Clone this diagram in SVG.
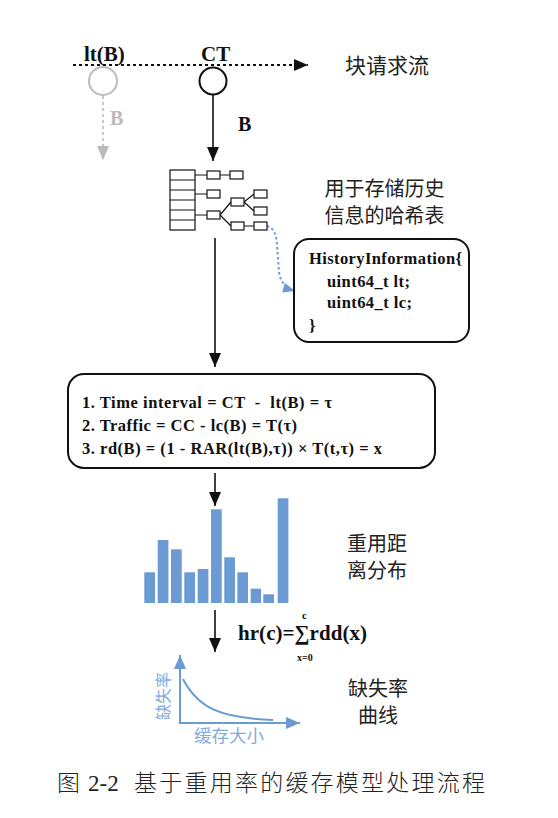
<svg xmlns="http://www.w3.org/2000/svg" width="558" height="818" viewBox="0 0 558 818">
<style>
.lat{font-family:"Liberation Serif","Times New Roman",serif;font-weight:bold;fill:#111;}
.cjk{font-family:"Noto Sans CJK SC","Noto Sans",sans-serif;font-size:20px;fill:#222;}
.box{fill:#fff;stroke:#111;stroke-width:2;}
.ht{fill:#fff;stroke:#111;stroke-width:1.2;}
.htl{stroke:#111;stroke-width:1.2;fill:none;}
.bar{fill:#6b9bd2;}
.pre{white-space:pre;}
</style>
<defs>
<marker id="ab" viewBox="0 0 14 12" refX="14" refY="6" markerWidth="14" markerHeight="12" markerUnits="userSpaceOnUse" orient="auto"><path d="M0,0 L14,6 L0,12 z" fill="#111"/></marker>
<marker id="ag" viewBox="0 0 14 12" refX="14" refY="6" markerWidth="14" markerHeight="12" markerUnits="userSpaceOnUse" orient="auto"><path d="M0,0 L14,6 L0,12 z" fill="#bbb"/></marker>
<marker id="abl" viewBox="0 0 12 10" refX="12" refY="5" markerWidth="12" markerHeight="10" markerUnits="userSpaceOnUse" orient="auto"><path d="M0,0 L12,5 L0,10 z" fill="#6b9bd2"/></marker>
<marker id="abx" viewBox="0 0 14 12" refX="14" refY="6" markerWidth="14" markerHeight="14" markerUnits="userSpaceOnUse" orient="auto"><path d="M0,0 L14,6 L0,12 z" fill="#6b9bd2"/></marker>
</defs>

<g id="connectors">
<line x1="73" y1="65" x2="308" y2="65" stroke="#111" stroke-width="2" stroke-dasharray="3 3" marker-end="url(#ab)"/>
<line x1="103" y1="96" x2="103" y2="160" stroke="#bbb" stroke-width="1.6" stroke-dasharray="3 3" marker-end="url(#ag)"/>
<line x1="213" y1="95" x2="213" y2="161" stroke="#111" stroke-width="1.6" marker-end="url(#ab)"/>
<line x1="215" y1="238" x2="215" y2="367" stroke="#111" stroke-width="1.6" marker-end="url(#ab)"/>
<path d="M267,226 Q276,228 277,245 L279,272 Q281,287 295,291" fill="none" stroke="#6b9bd2" stroke-width="2" stroke-dasharray="2.5 2.5" marker-end="url(#abl)"/>
<line x1="215" y1="473" x2="215" y2="506" stroke="#111" stroke-width="1.6" marker-end="url(#ab)"/>
<line x1="215" y1="610" x2="215" y2="652" stroke="#111" stroke-width="1.6" marker-end="url(#ab)"/>
</g>

<g id="stream-label">
<text class="lat" x="84" y="61" font-size="21">lt(B)</text>
<text class="lat" x="201" y="61" font-size="21">CT</text>
<text class="cjk" x="345" y="73" style="font-size:21px">块请求流</text>
</g>

<g id="old-block">
<circle cx="103" cy="81" r="14" fill="#fff" stroke="#bbb" stroke-width="2"/>
<text class="lat" x="110" y="125" style="font-size:20px;fill:#bbb">B</text>
</g>

<g id="current-block">
<circle cx="213" cy="81" r="13.5" fill="#fff" stroke="#111" stroke-width="2"/>
<text class="lat" x="238" y="131" font-size="20">B</text>
</g>

<g id="hash-table">
<rect class="ht" x="170" y="170" width="25" height="60"/>
<path class="htl" d="M170,180H195M170,190H195M170,200H195M170,210H195M170,220H195"/>
<path class="htl" d="M195,175H207M220,175H230M195,194H207M195,215H207M220,215L231,202M220,215L231,226M244,202L254,194M244,202L254,211M244,226H254"/>
<rect class="ht" x="207" y="171" width="13" height="8"/>
<rect class="ht" x="230" y="171" width="13" height="8"/>
<rect class="ht" x="207" y="190" width="13" height="8"/>
<rect class="ht" x="207" y="211" width="13" height="8"/>
<rect class="ht" x="231" y="198" width="13" height="8"/>
<rect class="ht" x="231" y="222" width="13" height="8"/>
<rect class="ht" x="254" y="190" width="13" height="8"/>
<rect class="ht" x="254" y="207" width="13" height="8"/>
<rect class="ht" x="254" y="222" width="13" height="8"/>
<text class="cjk" x="384.5" y="196" text-anchor="middle">用于存储历史</text>
<text class="cjk" x="384.5" y="223" text-anchor="middle">信息的哈希表</text>
</g>

<g id="history-info">
<rect class="box" x="294" y="239" width="175" height="103" rx="15"/>
<text class="lat" x="309" y="264" font-size="16.5" textLength="153">HistoryInformation{</text>
<text class="lat" x="327" y="287" font-size="16.5" textLength="83">uint64_t lt;</text>
<text class="lat" x="327" y="308" font-size="16.5" textLength="85">uint64_t lc;</text>
<text class="lat" x="309" y="331" font-size="16.5">}</text>
</g>

<g id="formula-box">
<rect class="box" x="68" y="374" width="367" height="94" rx="16"/>
<text class="lat pre" x="82" y="408" font-size="16.5" textLength="250">1. Time interval = CT  -  lt(B) = τ</text>
<text class="lat" x="82" y="431" font-size="16.5" textLength="215">2. Traffic = CC - lc(B) = T(τ)</text>
<text class="lat" x="82" y="454" font-size="16.5" textLength="300">3. rd(B) = (1 - RAR(lt(B),τ)) × T(t,τ) = x</text>
</g>

<g id="histogram">
<rect class="bar" x="144.3" y="572.3" width="10.7" height="30.7"/>
<rect class="bar" x="157.7" y="540" width="10.7" height="63"/>
<rect class="bar" x="171" y="549.3" width="10.7" height="53.7"/>
<rect class="bar" x="184.3" y="572.3" width="10.7" height="30.7"/>
<rect class="bar" x="197.7" y="569" width="10.7" height="34"/>
<rect class="bar" x="211" y="509.3" width="10.7" height="93.7"/>
<rect class="bar" x="224.3" y="557.3" width="10.7" height="45.7"/>
<rect class="bar" x="237.3" y="572.3" width="10.7" height="30.7"/>
<rect class="bar" x="250.7" y="588.7" width="10.3" height="14.3"/>
<rect class="bar" x="263.3" y="594.3" width="10.7" height="8.7"/>
<rect class="bar" x="277.7" y="498.3" width="10.7" height="104.7"/>
<text class="cjk" x="347" y="551">重用距</text>
<text class="cjk" x="347" y="578">离分布</text>
</g>

<g id="hit-ratio">
<text class="lat" x="238" y="640" font-size="21" textLength="129">hr(c)=∑rdd(x)</text>
<text class="lat" x="302" y="619" font-size="11">c</text>
<text class="lat" x="297" y="661" font-size="10">x=0</text>
</g>

<g id="miss-curve">
<line x1="180" y1="723" x2="180" y2="655" stroke="#6b9bd2" stroke-width="2" marker-end="url(#abx)"/>
<line x1="179" y1="723" x2="300" y2="723" stroke="#6b9bd2" stroke-width="2" marker-end="url(#abx)"/>
<path d="M183,679 C198,708 220,718 273,720" fill="none" stroke="#6b9bd2" stroke-width="2"/>
<text x="162" y="696" transform="rotate(-90 162 696)" text-anchor="middle" dominant-baseline="central" style="font-family:'Noto Sans CJK SC',sans-serif;font-size:16px;fill:#82aadb">缺失率</text>
<text x="194" y="742" style="font-family:'Noto Sans CJK SC',sans-serif;font-size:17.5px;fill:#82aadb">缓存大小</text>
<text class="cjk" x="378" y="696" text-anchor="middle">缺失率</text>
<text class="cjk" x="378" y="723" text-anchor="middle">曲线</text>
</g>

<g id="caption">
<text x="57" y="791" style="font-family:'Noto Sans CJK SC',sans-serif;font-size:23px;font-weight:300;fill:#222">图</text>
<text x="88" y="791" style="font-family:'Liberation Serif',serif;font-size:23px;fill:#222">2-2</text>
<text x="134" y="791" textLength="351" style="font-family:'Noto Sans CJK SC',sans-serif;font-size:23px;font-weight:300;fill:#222">基于重用率的缓存模型处理流程</text>
</g>
</svg>
